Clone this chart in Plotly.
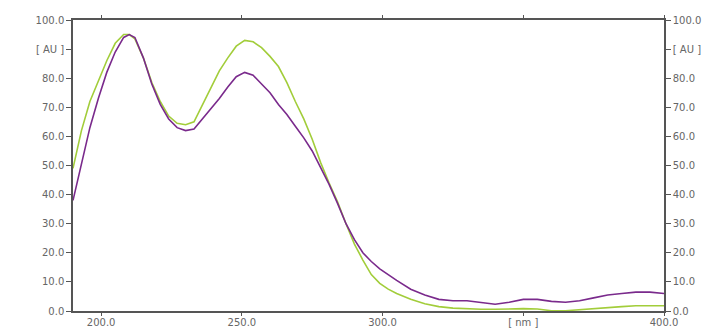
import plotly.graph_objects as go

wavelength = [190, 193, 196, 199, 202, 205, 208, 210, 212, 215, 218, 221, 224, 227, 230,
              233, 236, 239, 242, 245, 248, 251, 254, 257, 260, 263, 266, 269, 272, 275,
              278, 281, 284, 287, 290, 293, 296, 299, 302, 305, 310, 315, 320, 325, 330,
              335, 340, 345, 350, 355, 360, 365, 370, 375, 380, 385, 390, 395, 400]

purple = [38, 51, 63, 73, 82, 89, 94, 95, 94, 87, 78, 71, 66, 63, 62,
          62.5, 66, 69.5, 73, 77, 80.5, 82, 81, 78, 75, 71, 67.5, 63.5, 59.5, 55,
          49.5, 43.5, 37, 30, 24.5, 20, 17, 14.5, 12.5, 10.5, 7.5, 5.5, 4, 3.5, 3.5,
          3, 2.3, 3, 4, 4, 3.3, 3, 3.5, 4.5, 5.5, 6, 6.5, 6.5, 6]

green = [49, 62, 72, 79, 86, 92, 95, 95, 93.5, 87, 78.5, 72, 67, 64.5, 64,
         65, 71, 77, 82.5, 87, 91, 93, 92.5, 90.5, 87.5, 84, 78.5, 72, 66, 59,
         51, 44, 37.5, 30, 23, 17.5, 12.5, 9.5, 7.5, 6, 4, 2.5, 1.5, 1, 0.7,
         0.6, 0.6, 0.8, 0.8, 0.7, 0.1, 0.1, 0.5, 0.8, 1.2, 1.5, 1.8, 1.8, 1.8]

x_tickvals = [200, 250, 300, 350, 400]
x_ticktext = ["200.0", "250.0", "300.0", "[ nm ]", "400.0"]
y_tickvals = [0, 10, 20, 30, 40, 50, 60, 70, 80, 90, 100]
y_ticktext = ["0.0", "10.0", "20.0", "30.0", "40.0", "50.0", "60.0", "70.0", "80.0", "[ AU ]", "100.0"]

fig = go.Figure()
fig.add_trace(go.Scatter(x=wavelength, y=green, mode="lines",
                         line=dict(color="#a2cd3a", width=1.6), showlegend=False))
fig.add_trace(go.Scatter(x=wavelength, y=purple, mode="lines",
                         line=dict(color="#7a2a8c", width=1.6), showlegend=False))
fig.add_trace(go.Scatter(x=[None], y=[None], yaxis="y2", showlegend=False, hoverinfo="skip"))

axis_color = "#555555"
font = dict(family="DejaVu Sans", size=10, color="#666666")

fig.update_layout(
    width=723, height=331,
    margin=dict(l=73, r=59, t=20, b=20),
    paper_bgcolor="white", plot_bgcolor="white",
    xaxis=dict(range=[190, 400], tickvals=x_tickvals, ticktext=x_ticktext,
               showgrid=False, zeroline=False, showline=True, linecolor=axis_color,
               linewidth=1.5, ticks="outside", ticklen=3, tickcolor=axis_color,
               ticklabelstandoff=-2,
               mirror="allticks", tickfont=font, automargin=False),
    yaxis=dict(range=[0, 100], tickvals=y_tickvals, ticktext=y_ticktext,
               showgrid=False, zeroline=False, showline=True, linecolor=axis_color,
               linewidth=1.5, ticks="outside", ticklen=5, tickcolor=axis_color,
               tickfont=font, automargin=False),
    yaxis2=dict(range=[0, 100], tickvals=y_tickvals, ticktext=y_ticktext,
                overlaying="y", side="right",
                showgrid=False, zeroline=False, showline=True, linecolor=axis_color,
                linewidth=1.5, ticks="outside", ticklen=5, tickcolor=axis_color,
                tickfont=font, automargin=False),
)

fig.write_html("out.html")
